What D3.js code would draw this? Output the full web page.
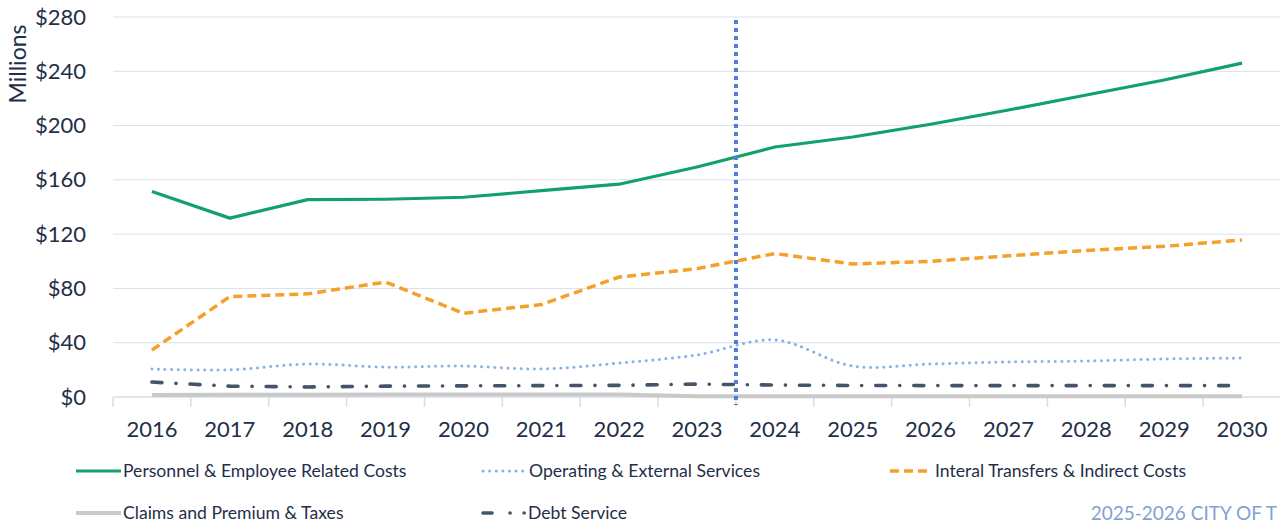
<!DOCTYPE html>
<html>
<head>
<meta charset="utf-8">
<script src="https://cdn.jsdelivr.net/npm/d3@7"></script>
<style>
  body { margin: 0; background: #fff; }
  svg { display: block; font-family: Lato, "Open Sans", sans-serif; }
</style>
</head>
<body>
<div id="chart"></div>
<script>
// data ($ millions)
const years = ["2016","2017","2018","2019","2020","2021","2022","2023","2024","2025","2026","2027","2028","2029","2030"];
const personnel = [151.5,131.8,145.4,145.7,147.2,152,156.8,169.5,184.2,191.6,201,211.5,222.5,233.6,246];
const operating = [20.6,20,24.3,22,22.8,20.6,25,31,42,22.8,24.3,25.8,26.5,28,28.7];
const transfers = [34.6,74,76,84.7,61.7,68.1,88.4,94.6,105.7,98,100,104,108,111,115.7];
const claims = [1.5,1.6,1.7,1.8,1.8,1.8,1.9,0.6,0.5,0.5,0.5,0.5,0.5,0.5,0.5];
const debt = [11,8,7.4,8,8.2,8.4,8.6,9.5,8.8,8.5,8.4,8.4,8.4,8.4,8.4];
const yTicks = [0,40,80,120,160,200,240,280];

const series = [
  {name: "Personnel & Employee Related Costs", values: personnel, color: "#12a06c", width: 3.2, dash: null, cap: "butt", curve: d3.curveLinear},
  {name: "Operating & External Services", values: operating, color: "#8eb1e5", width: 3, dash: "0.1,6.5", cap: "round", curve: d3.curveCatmullRom},
  {name: "Interal Transfers & Indirect Costs", values: transfers, color: "#f4a02a", width: 3.5, dash: "9,5", cap: "butt", curve: d3.curveLinear},
  {name: "Claims and Premium & Taxes", values: claims, color: "#c9c9c9", width: 4, dash: null, cap: "butt", curve: d3.curveLinear},
  {name: "Debt Service", values: debt, color: "#44546a", width: 3.6, dash: "10,14,0.1,14", cap: "round", curve: d3.curveLinear}
];

const W = 1280, H = 527;
const plotLeft = 113, plotRight = 1281, plotTop = 17, plotBottom = 397;

const svg = d3.select("#chart").append("svg")
  .attr("width", W).attr("height", H);

const x = d3.scaleBand().domain(years).range([plotLeft, plotRight]).padding(0);
const y = d3.scaleLinear().domain([0, 280]).range([plotBottom, plotTop]);
const cx = d => x(d) + x.bandwidth() / 2;

// gridlines
svg.append("g").selectAll("line")
  .data(yTicks.filter(t => t > 0))
  .join("line")
  .attr("x1", plotLeft).attr("x2", plotRight)
  .attr("y1", d => y(d)).attr("y2", d => y(d))
  .attr("stroke", "#d9e0ea").attr("stroke-width", 1);

// y axis labels
const yAxis = svg.append("g")
  .attr("transform", "translate(" + (plotLeft - 24) + ",0)")
  .call(d3.axisLeft(y).tickValues(yTicks).tickSize(0).tickFormat(d => "$" + d));
yAxis.select(".domain").remove();
yAxis.selectAll("text")
  .attr("fill", "#1f2f48")
  .style("font-size", "22px")
  .style("font-family", "Lato, 'Open Sans', sans-serif");

svg.append("text")
  .attr("transform", "translate(18,64) rotate(-90)")
  .attr("text-anchor", "middle")
  .attr("dy", "0.35em")
  .attr("fill", "#1f2f48")
  .style("font-size", "23px")
  .text("Millions");

// x axis
const xAxis = svg.append("g")
  .attr("transform", "translate(0," + plotBottom + ")")
  .call(d3.axisBottom(x).tickSize(0).tickPadding(24));
xAxis.select(".domain").attr("stroke", "#d6dde8").attr("stroke-width", 1.5)
  .attr("d", "M" + plotLeft + ",0H" + plotRight);
xAxis.selectAll("text")
  .attr("fill", "#1f2f48")
  .style("font-size", "22px")
  .style("font-family", "Lato, 'Open Sans', sans-serif");

// category boundary ticks
const bounds = years.map(d => x(d)).concat([plotRight]);
svg.append("g").selectAll("line")
  .data(bounds)
  .join("line")
  .attr("x1", d => d).attr("x2", d => d)
  .attr("y1", plotBottom).attr("y2", plotBottom + 10)
  .attr("stroke", "#d6dde8").attr("stroke-width", 1.5);

// series lines
series.slice().reverse().forEach(s => {
  const line = d3.line()
    .x((v, i) => cx(years[i]))
    .y(v => y(v))
    .curve(s.curve);
  svg.append("path")
    .datum(s.values)
    .attr("d", line)
    .attr("fill", "none")
    .attr("stroke", s.color)
    .attr("stroke-width", s.width)
    .attr("stroke-dasharray", s.dash)
    .attr("stroke-linecap", s.cap)
    .attr("stroke-linejoin", "round");
});

// forecast divider between 2023 and 2024
svg.append("line")
  .attr("x1", x("2024")).attr("x2", x("2024"))
  .attr("y1", 20).attr("y2", plotBottom + 8)
  .attr("stroke", "#4a7fd6")
  .attr("stroke-width", 4)
  .attr("stroke-dasharray", "4,4");

// legend
const legendPos = [
  {x: 76, y: 471, w: 45, tx: 123}, {x: 483, y: 471, w: 41, tx: 529}, {x: 890, y: 471, w: 40, tx: 935},
  {x: 76, y: 513, w: 45, tx: 123}, {x: 483, y: 513, w: 42, tx: 528}
];
const legend = svg.append("g").selectAll("g")
  .data(series)
  .join("g")
  .attr("transform", (d, i) => "translate(" + legendPos[i].x + "," + legendPos[i].y + ")");
legend.append("line")
  .attr("x1", 0).attr("x2", (d, i) => legendPos[i].w)
  .attr("y1", 0).attr("y2", 0)
  .attr("stroke", d => d.color)
  .attr("stroke-width", d => d.width)
  .attr("stroke-dasharray", d => d.name === "Debt Service" ? "9,18,0.1,14,0.1,30" : d.dash)
  .attr("stroke-linecap", d => d.cap);
legend.append("text")
  .attr("x", (d, i) => legendPos[i].tx - legendPos[i].x)
  .attr("y", 0)
  .attr("dy", "0.35em")
  .attr("fill", "#1f2f48")
  .style("font-size", "17.6px")
  .text(d => d.name);

// footer
svg.append("text")
  .attr("x", 1277).attr("y", 520)
  .attr("text-anchor", "end")
  .attr("fill", "#7fa3cf")
  .style("font-size", "19px")
  .text("2025-2026 CITY OF T");
</script>
</body>
</html>
